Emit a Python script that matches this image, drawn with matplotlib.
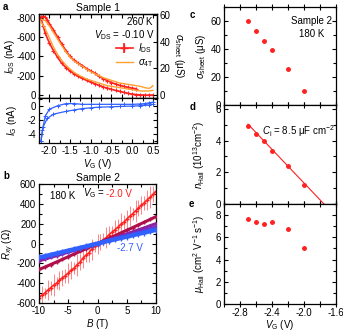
import numpy as np
import matplotlib
matplotlib.use("Agg")
import matplotlib.pyplot as plt
from matplotlib.ticker import MultipleLocator

plt.rcParams.update({'font.family': ['Liberation Sans', 'DejaVu Sans'],
                     'font.size': 7, 'mathtext.fontset': 'custom',
                     'mathtext.rm': 'Liberation Sans', 'mathtext.it': 'Liberation Sans:italic',
                     'axes.unicode_minus': False, 'axes.linewidth': 0.9})

# ---- panel a : transfer curve, sample 1 ----
vg_down = [0.5, 0.4, 0.3, 0.2, 0.1, 0.0, -0.1, -0.2, -0.3, -0.4, -0.5, -0.6, -0.7, -0.8, -0.9,
           -1.0, -1.1, -1.2, -1.3, -1.4, -1.5, -1.6, -1.7, -1.8, -1.9, -2.0, -2.1, -2.15, -2.2]
ids_down = [0, 0, 0, -2, -5, -10, -18, -28, -38, -48, -60, -72, -85, -100, -118,
            -135, -152, -172, -195, -220, -250, -285, -330, -390, -460, -540, -640, -720, -790]
vg_up = [-2.2, -2.15, -2.1, -2.05, -2.0, -1.9, -1.8, -1.7, -1.6, -1.5, -1.4, -1.3, -1.2, -1.1,
         -1.0, -0.9, -0.8, -0.7, -0.6, -0.5, -0.4, -0.3, -0.2, -0.1, 0.0, 0.1]
ids_up = [-810, -815, -810, -780, -740, -675, -600, -530, -460, -400, -360, -330, -305, -275,
          -250, -225, -195, -170, -150, -130, -115, -100, -90, -80, -72, -65]

vg_s = [-2.2, -2.1, -2.0, -1.9, -1.8, -1.7, -1.6, -1.5, -1.4, -1.3, -1.2, -1.1, -1.0, -0.9, -0.8,
        -0.7, -0.6, -0.5, -0.4, -0.3, -0.2, -0.1, 0.0, 0.1, 0.2, 0.3, 0.4, 0.45, 0.5]
sig_up = [57, 56, 52, 47, 42, 37, 32.5, 28.5, 25.5, 23.5, 21.5, 19.5, 17.5, 16, 14.5,
          13, 12, 11, 10, 9, 8.5, 8, 7.5, 7, 6.5, 5.5, 5, 5.5, 7]
sig_down = [55, 50, 43, 36, 30.5, 26, 22.5, 19.5, 17, 15, 13.5, 12, 11, 10, 9,
            8, 7, 6.5, 6, 5.5, 5, 4.5, 4, 3.5, 3, 3, 3, 3.2, 3.5]

vg_ig1 = [-2.2, -2.17, -2.1, -2.0, -1.8, -1.6, -1.4, -1.2, -1.0, -0.8, -0.5, -0.2, 0.0, 0.2, 0.3, 0.4, 0.5]
ig1 = [-5.0, -3.5, -1.5, -0.5, 0.0, 0.3, 0.3, 0.2, 0.2, 0.2, 0.2, 0.2, 0.2, 0.25, 0.3, 0.4, 0.5]
vg_ig2 = [-2.2, -2.15, -2.05, -1.9, -1.6, -1.4, -1.2, -1.0, -0.8, -0.5, -0.3, 0.0, 0.2, 0.4, 0.5]
ig2 = [-5.0, -3.0, -1.8, -1.2, -0.8, -0.6, -0.4, -0.3, -0.2, -0.15, -0.1, -0.05, 0.0, 0.1, 0.2]

# ---- panel b : Hall resistance, sample 2 ----
b_field = [-10, -9, -8, -7, -6, -5, -4, -3, -2, -1, 0, 1, 2, 3, 4, 5, 6, 7, 8, 9, 10]
rxy_22 = [-262, -238, -212, -186, -160, -133, -106, -80, -54, -28, 0, 27, 54, 80, 107, 134, 160, 188, 215, 243, 271]
rxy_24 = [-175, -158, -140, -123, -105, -88, -70, -53, -35, -18, 0, 19, 38, 58, 78, 98, 118, 138, 158, 180, 200]
rxy_25 = [-155, -140, -124, -109, -93, -78, -62, -47, -31, -16, 0, 16, 33, 50, 66, 83, 100, 116, 133, 150, 166]
rxy_26 = [-146, -132, -117, -103, -88, -73, -58, -44, -29, -15, 0, 15, 30, 45, 60, 75, 90, 105, 120, 135, 150]
rxy_27 = [-140, -127, -113, -99, -85, -71, -57, -43, -29, -14, 0, 14, 28, 41, 55, 68, 82, 96, 109, 123, 136]
b_red = np.arange(-10, 10.5, 0.5)
rxy_20 = [-545, -520, -500, -470, -445, -420, -400, -370, -345, -325, -300, -270, -250, -215,
          -190, -150, -120, -95, -60, -30, -5, 15, 40, 60, 90, 115, 140, 165, 195, 215, 245,
          275, 300, 330, 355, 385, 410, 440, 465, 495, 525]
rxy_20_err = [60, 90, 50, 100, 70, 110, 60, 95, 80, 70, 100, 90, 60, 110, 80, 100, 70, 90, 110,
              60, 100, 80, 70, 110, 90, 60, 100, 80, 110, 70, 90, 100, 60, 110, 80, 90, 70,
              100, 110, 80, 60]

# ---- panels c, d, e ----
vg_c = [-2.7, -2.6, -2.5, -2.4, -2.2, -2.0]
sigma_sheet = [60, 52.7, 46, 39, 26, 10]
n_hall = [4.95, 4.45, 4.0, 3.33, 2.42, 1.22]
mu_hall = [7.67, 7.4, 7.22, 7.4, 6.77, 5.0]
fit_vg = [-2.7, -1.75]
fit_n = [5.04, 0.0]

RED = '#ff2020'
ORANGE = '#ffa030'
BLUE = '#3060ff'

W, H = 343, 332


def box(x0, y0, x1, y1):
    return [x0 / W, 1 - y1 / H, (x1 - x0) / W, (y1 - y0) / H]


def style(ax):
    ax.tick_params(which='both', direction='in', top=True, right=True, length=3, width=0.8, pad=2)
    ax.tick_params(which='minor', length=2)


fig = plt.figure(figsize=(3.43, 3.32), dpi=100)

# a top
ax1 = fig.add_axes(box(39, 14, 157, 98))
ax1.plot(vg_down, ids_down, color=RED, lw=1.2, marker='+', ms=3.5, mew=0.8)
ax1.plot(vg_up, ids_up, color=RED, lw=1.2, marker='+', ms=3.5, mew=0.8)
ax1.set_xlim(-2.25, 0.6)
ax1.set_ylim(30, -840)
ax1.set_yticks([0, -200, -400, -600, -800])
ax1.xaxis.set_major_locator(MultipleLocator(0.5))
ax1.xaxis.set_minor_locator(MultipleLocator(0.25))
ax1.set_xticklabels([])
ax1.set_ylabel('$I_{\\rm DS}$ (nA)', labelpad=0)
ax1.tick_params(which='both', direction='in', top=True, length=3, width=0.8, pad=2)
ax1b = ax1.twinx()
ax1b.plot(vg_s, sig_up, color=ORANGE, lw=1.0)
ax1b.plot(vg_s, sig_down, color=ORANGE, lw=1.0)
ax1b.set_ylim(-2.3, 61)
ax1b.set_yticks([0, 20, 40, 60])
ax1b.tick_params(direction='in', length=3, width=0.8, pad=2)
ax1b.set_ylabel('$\\sigma_{\\rm sheet}$ (μS)', rotation=270, labelpad=11)
h1 = ax1.errorbar([], [], yerr=[], color=RED, marker='+', lw=1.2)
h2, = ax1b.plot([], [], color=ORANGE, lw=1.0)
ax1.legend([h1, h2], ['$I_{\\rm DS}$', '$\\sigma_{\\rm 4T}$'], loc='upper right',
           bbox_to_anchor=(1.02, 0.74), frameon=False, handlelength=1.8, handletextpad=0.5,
           labelspacing=0.2, borderpad=0.1)
ax1.text(0.96, 0.9, '260 K', transform=ax1.transAxes, ha='right', va='center')
ax1.text(0.98, 0.75, '$V_{\\rm DS}$ = -0.10 V', transform=ax1.transAxes, ha='right', va='center')
ax1.set_title('Sample 1', fontsize=7.5, pad=2)

# a bottom
ax2 = fig.add_axes(box(39, 98, 157, 143))
ax2.plot(vg_ig1, ig1, color=BLUE, lw=0.9, marker='+', ms=3, mew=0.7)
ax2.plot(vg_ig2, ig2, color=BLUE, lw=0.9, marker='+', ms=3, mew=0.7)
ax2.set_xlim(-2.25, 0.6)
ax2.set_ylim(-5.3, 1.1)
ax2.set_yticks([0, -2, -4])
ax2.yaxis.set_minor_locator(MultipleLocator(1))
ax2.xaxis.set_major_locator(MultipleLocator(0.5))
ax2.xaxis.set_minor_locator(MultipleLocator(0.25))
style(ax2)
ax2.set_xlabel('$V_{\\rm G}$ (V)', labelpad=1)
ax2.set_ylabel('$I_{\\rm G}$ (nA)', labelpad=6)

# b
ax3 = fig.add_axes(box(39, 184, 156, 303))
ax3.errorbar(b_red, rxy_20, yerr=rxy_20_err, color=RED, lw=1.0, marker='+', ms=3,
             elinewidth=0.6, ecolor='#ff7070', zorder=2)
ax3.plot(b_field, rxy_22, color='#b0104a', lw=2.2, marker='+', ms=3, zorder=3)
ax3.plot(b_field, rxy_24, color='#9020a0', lw=2.2, marker='+', ms=3, zorder=4)
ax3.plot(b_field, rxy_25, color='#7030c8', lw=2.2, marker='+', ms=3, zorder=5)
ax3.plot(b_field, rxy_26, color='#5048e0', lw=2.2, marker='+', ms=3, zorder=6)
ax3.plot(b_field, rxy_27, color=BLUE, lw=3.0, marker='+', ms=4, zorder=7)
ax3.set_xlim(-10, 10)
ax3.set_ylim(-600, 600)
ax3.set_xticks([-10, -5, 0, 5, 10])
ax3.set_yticks(range(-600, 601, 200))
ax3.xaxis.set_minor_locator(MultipleLocator(2.5))
ax3.yaxis.set_minor_locator(MultipleLocator(100))
style(ax3)
ax3.set_xlabel('$B$ (T)', labelpad=1)
ax3.set_ylabel('$R_{xy}$ (Ω)', labelpad=0)
ax3.set_title('Sample 2', fontsize=7.5, pad=2)
ax3.text(0.09, 0.9, '180 K', transform=ax3.transAxes, ha='left', va='center')
ax3.text(0.57, 0.92, '$V_{\\rm G}$ = ', transform=ax3.transAxes, ha='right', va='center')
ax3.text(0.57, 0.92, '-2.0 V', transform=ax3.transAxes, ha='left', va='center', color=RED)
ax3.text(0.67, 0.46, '-2.7 V', transform=ax3.transAxes, ha='left', va='center', color=BLUE)

# c
ax4 = fig.add_axes(box(224, 7, 336, 105))
ax4.errorbar(vg_c, sigma_sheet, xerr=0.02, fmt='o', color=RED, ms=2.5, elinewidth=0.8)
ax4.set_ylim(0, 70)
ax4.set_yticks([0, 20, 40, 60])
ax4.yaxis.set_minor_locator(MultipleLocator(10))
ax4.set_ylabel('$\\sigma_{\\rm sheet}$ (μS)', labelpad=2)
ax4.text(0.96, 0.86, 'Sample 2', transform=ax4.transAxes, ha='right', va='center')
ax4.text(0.9, 0.72, '180 K', transform=ax4.transAxes, ha='right', va='center')

# d
ax5 = fig.add_axes(box(224, 105, 336, 204))
ax5.plot(fit_vg, fit_n, color=RED, lw=0.8)
ax5.errorbar(vg_c, n_hall, xerr=0.02, fmt='o', color=RED, ms=2.5, elinewidth=0.8)
ax5.set_ylim(0, 6.25)
ax5.set_yticks([0, 2, 4, 6])
ax5.yaxis.set_minor_locator(MultipleLocator(1))
ax5.set_ylabel('$n_{\\rm Hall}$ (10$^{13}$cm$^{-2}$)', labelpad=6)
ax5.text(0.99, 0.74, '$C_{\\rm i}$ = 8.5 μF cm$^{-2}$', transform=ax5.transAxes, ha='right', va='center')

# e
ax6 = fig.add_axes(box(224, 204, 336, 304))
ax6.errorbar(vg_c, mu_hall, xerr=0.02, fmt='o', color=RED, ms=2.5, elinewidth=0.8)
ax6.set_ylim(0, 9)
ax6.set_yticks([0, 2, 4, 6, 8])
ax6.yaxis.set_minor_locator(MultipleLocator(1))
ax6.set_ylabel('$\\mu_{\\rm Hall}$ (cm$^2$ V$^{-1}$ s$^{-1}$)', labelpad=6)
ax6.set_xlabel('$V_{\\rm G}$ (V)', labelpad=0)

for ax in (ax4, ax5, ax6):
    ax.set_xlim(-3.0, -1.6)
    ax.xaxis.set_major_locator(MultipleLocator(0.4))
    ax.xaxis.set_minor_locator(MultipleLocator(0.2))
    style(ax)
    ax.tick_params(axis='x', which='both', direction='inout', length=4)
ax4.set_xticklabels([])
ax5.set_xticklabels([])
ax6.set_xticks([-2.8, -2.4, -2.0, -1.6])
ax6.set_xticklabels(['-2.8', '-2.4', '-2.0', '-1.6'])
ax6.tick_params(axis='x', pad=1)

for lab, x, y in [('a', 3, 7), ('b', 3, 176), ('c', 190, 15), ('d', 190, 107), ('e', 189, 204)]:
    fig.text(x / W, 1 - y / H, lab, fontweight='bold', fontsize=7, va='center', ha='left')

fig.savefig('out.png', dpi=100)
